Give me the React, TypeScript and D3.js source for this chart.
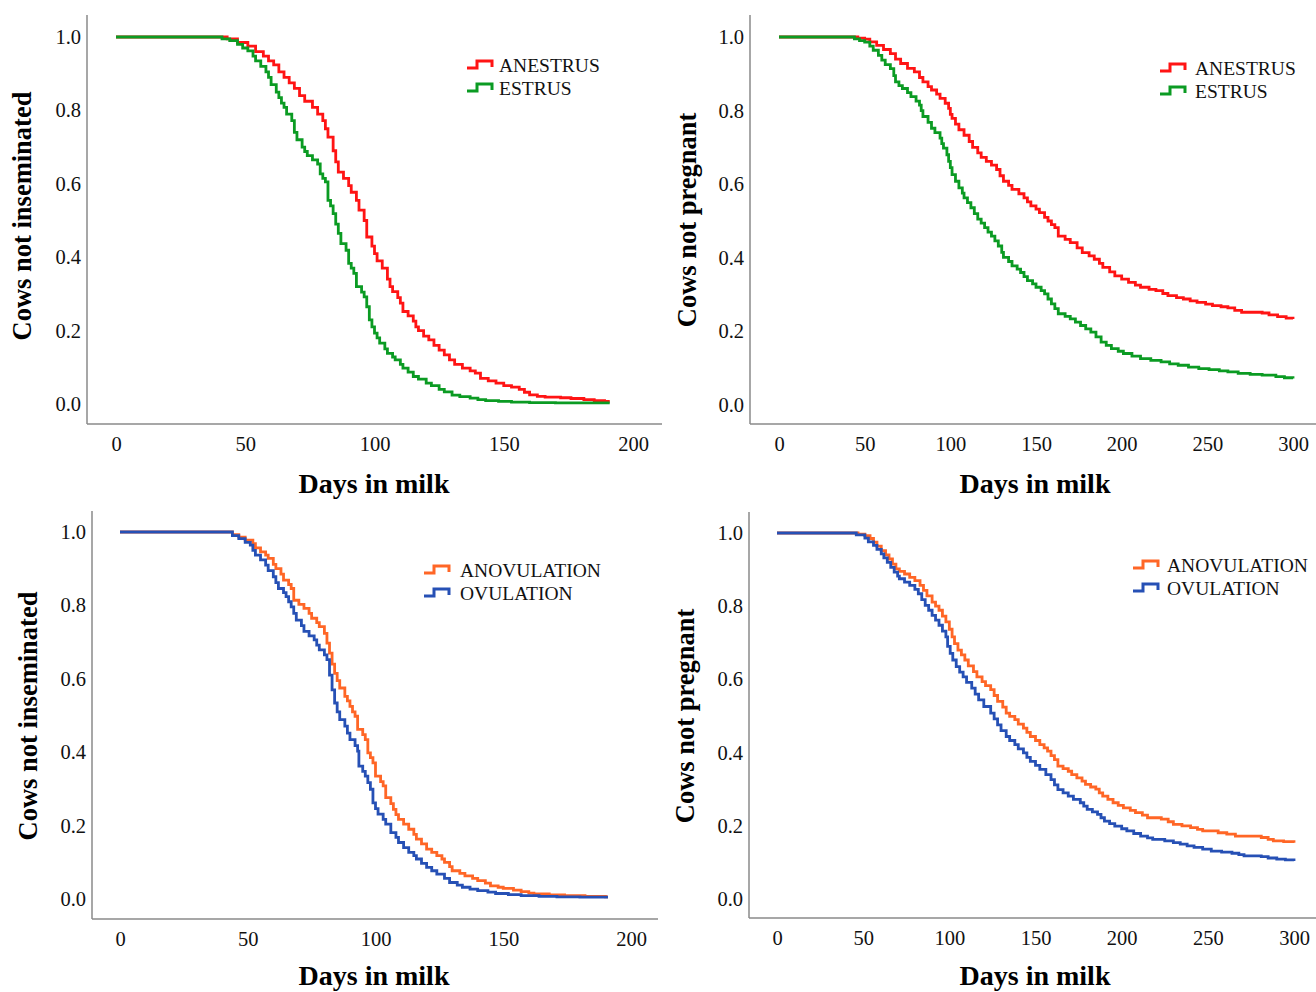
import React, { useEffect, useRef } from 'react';
import * as d3 from 'd3';

// Kaplan-Meier estimates: [days in milk, proportion]
const inseminatedAnestrus: [number, number][] = [
  [0, 1], [43, 0.995], [47, 0.985], [51, 0.975], [54, 0.96], [57, 0.948], [59, 0.935], [61, 0.924], [63, 0.905],
  [65, 0.89], [67, 0.875], [69, 0.86], [71, 0.84], [73, 0.825], [76, 0.808], [78, 0.79], [80, 0.772], [81, 0.75],
  [82, 0.727], [84, 0.69], [85, 0.66], [86, 0.632], [88, 0.615], [90, 0.595], [91, 0.577], [93, 0.555], [94, 0.528],
  [96, 0.5], [97, 0.455], [99, 0.43], [100, 0.41], [101, 0.39], [103, 0.37], [105, 0.34], [106, 0.32], [107, 0.306],
  [109, 0.29], [110, 0.275], [111, 0.252], [113, 0.24], [115, 0.226], [116, 0.21], [117, 0.2], [119, 0.185],
  [121, 0.175], [123, 0.16], [125, 0.147], [127, 0.134], [129, 0.12], [131, 0.108], [134, 0.098], [137, 0.09],
  [139, 0.084], [141, 0.07], [144, 0.063], [147, 0.057], [150, 0.05], [153, 0.046], [156, 0.04], [158, 0.032],
  [160, 0.025], [163, 0.021], [166, 0.019], [172, 0.017], [176, 0.015], [181, 0.012], [185, 0.009], [189, 0.007],
  [191, 0.007],
];
const inseminatedEstrus: [number, number][] = [
  [0, 1], [41, 0.995], [44, 0.99], [47, 0.98], [49, 0.97], [51, 0.962], [53, 0.948], [54, 0.935], [56, 0.92],
  [58, 0.905], [59, 0.89], [60, 0.87], [62, 0.85], [63, 0.835], [64, 0.82], [65, 0.808], [66, 0.79], [68, 0.772],
  [69, 0.74], [70, 0.72], [72, 0.7], [73, 0.688], [74, 0.677], [76, 0.665], [78, 0.654], [79, 0.627], [80, 0.615],
  [81, 0.605], [82, 0.555], [83, 0.54], [84, 0.519], [85, 0.49], [86, 0.465], [87, 0.437], [89, 0.419], [90, 0.383],
  [91, 0.37], [92, 0.356], [93, 0.32], [95, 0.305], [96, 0.292], [97, 0.265], [98, 0.229], [99, 0.21], [100, 0.193],
  [101, 0.18], [102, 0.166], [104, 0.15], [105, 0.138], [107, 0.128], [108, 0.12], [110, 0.108], [111, 0.098],
  [113, 0.087], [115, 0.075], [117, 0.068], [120, 0.057], [122, 0.05], [125, 0.04], [127, 0.033], [130, 0.024],
  [133, 0.02], [137, 0.016], [140, 0.012], [143, 0.009], [148, 0.007], [153, 0.005], [160, 0.004], [170, 0.003],
  [191, 0.003],
];
const pregnantAnestrus: [number, number][] = [
  [0, 1], [43, 1], [46, 0.997], [50, 0.994], [53, 0.987], [57, 0.977], [61, 0.966], [65, 0.955], [68, 0.94],
  [71, 0.928], [75, 0.915], [79, 0.905], [82, 0.89], [84, 0.878], [87, 0.865], [89, 0.856], [92, 0.845], [94, 0.833],
  [97, 0.82], [99, 0.806], [100, 0.79], [101, 0.779], [103, 0.763], [105, 0.748], [108, 0.733], [111, 0.716],
  [113, 0.7], [116, 0.685], [118, 0.673], [121, 0.662], [124, 0.652], [127, 0.64], [129, 0.623], [131, 0.608],
  [134, 0.597], [136, 0.586], [140, 0.574], [143, 0.563], [145, 0.552], [147, 0.541], [150, 0.532], [152, 0.523],
  [155, 0.51], [157, 0.5], [159, 0.49], [161, 0.482], [163, 0.459], [167, 0.45], [170, 0.441], [174, 0.427],
  [177, 0.414], [181, 0.405], [184, 0.396], [187, 0.385], [189, 0.374], [193, 0.362], [196, 0.351], [200, 0.342],
  [204, 0.333], [208, 0.326], [211, 0.32], [216, 0.314], [220, 0.311], [224, 0.303], [227, 0.297], [232, 0.292],
  [236, 0.288], [240, 0.283], [244, 0.279], [249, 0.274], [253, 0.27], [258, 0.267], [262, 0.264], [266, 0.257],
  [270, 0.252], [282, 0.25], [286, 0.245], [291, 0.24], [296, 0.236], [300, 0.234],
];
const pregnantEstrus: [number, number][] = [
  [0, 1], [41, 1], [44, 0.995], [47, 0.99], [50, 0.986], [53, 0.975], [55, 0.964], [58, 0.95], [60, 0.937],
  [62, 0.925], [65, 0.914], [67, 0.895], [68, 0.878], [70, 0.868], [72, 0.86], [75, 0.849], [77, 0.838], [80, 0.826],
  [82, 0.815], [83, 0.8], [84, 0.784], [87, 0.768], [89, 0.752], [91, 0.74], [94, 0.725], [95, 0.71], [96, 0.698],
  [98, 0.68], [99, 0.662], [100, 0.645], [101, 0.626], [103, 0.608], [105, 0.59], [107, 0.576], [108, 0.563],
  [110, 0.55], [112, 0.536], [114, 0.52], [116, 0.505], [118, 0.494], [120, 0.482], [122, 0.47], [124, 0.459],
  [126, 0.446], [128, 0.432], [130, 0.415], [131, 0.401], [134, 0.39], [136, 0.378], [139, 0.369], [141, 0.36],
  [143, 0.349], [145, 0.338], [148, 0.329], [150, 0.32], [153, 0.311], [155, 0.302], [157, 0.288], [159, 0.275],
  [161, 0.262], [163, 0.248], [167, 0.241], [170, 0.234], [173, 0.225], [176, 0.216], [179, 0.207], [182, 0.198],
  [185, 0.185], [188, 0.171], [191, 0.162], [194, 0.153], [198, 0.146], [201, 0.14], [206, 0.133], [211, 0.126],
  [217, 0.121], [223, 0.117], [228, 0.112], [233, 0.108], [239, 0.103], [245, 0.099], [251, 0.096], [257, 0.093],
  [262, 0.09], [268, 0.086], [275, 0.083], [282, 0.081], [290, 0.077], [295, 0.074], [300, 0.072],
];
const inseminatedAnovulation: [number, number][] = [
  [0, 1], [41.5, 1], [44, 0.993], [46.5, 0.986], [49, 0.978], [52, 0.968], [53, 0.957], [55, 0.946], [57, 0.937],
  [58, 0.928], [60, 0.912], [61, 0.9], [63, 0.885], [64, 0.869], [66, 0.857], [67, 0.846], [68, 0.814], [70, 0.803],
  [72, 0.792], [74, 0.778], [75, 0.765], [77, 0.753], [78, 0.742], [80, 0.724], [81, 0.697], [82, 0.67], [83, 0.64],
  [84, 0.615], [85, 0.595], [86, 0.575], [88, 0.552], [89, 0.54], [90, 0.525], [91, 0.51], [92, 0.498], [93, 0.462],
  [95, 0.448], [96, 0.434], [97, 0.398], [98, 0.385], [99, 0.371], [100, 0.335], [102, 0.32], [103, 0.308],
  [104, 0.276], [106, 0.26], [107, 0.244], [108, 0.23], [109, 0.217], [111, 0.204], [113, 0.19], [115, 0.176],
  [116, 0.163], [118, 0.15], [120, 0.136], [122, 0.127], [124, 0.118], [126, 0.109], [127, 0.1], [129, 0.088],
  [130, 0.077], [133, 0.07], [135, 0.063], [138, 0.056], [140, 0.05], [143, 0.043], [145, 0.036], [148, 0.032],
  [150, 0.029], [154, 0.024], [157, 0.02], [160, 0.016], [162, 0.014], [168, 0.011], [174, 0.009], [182, 0.007],
  [190, 0.006], [191, 0.006],
];
const inseminatedOvulation: [number, number][] = [
  [0, 1], [41.5, 1], [44, 0.99], [46.5, 0.982], [49, 0.972], [51, 0.964], [52, 0.95], [53, 0.937], [55, 0.924],
  [57, 0.91], [58, 0.895], [60, 0.878], [61, 0.862], [62, 0.846], [64, 0.835], [65, 0.824], [66, 0.81], [67, 0.796],
  [68, 0.778], [69, 0.76], [71, 0.745], [72, 0.729], [74, 0.717], [76, 0.706], [77, 0.692], [78, 0.679], [80, 0.665],
  [81, 0.652], [82, 0.61], [83, 0.57], [84, 0.534], [85, 0.51], [86, 0.489], [88, 0.471], [89, 0.452], [90, 0.434],
  [92, 0.418], [93, 0.403], [93.5, 0.362], [95, 0.348], [96, 0.335], [97, 0.317], [98, 0.299], [99, 0.262],
  [100, 0.246], [101, 0.231], [103, 0.217], [104, 0.204], [106, 0.181], [108, 0.168], [109, 0.154], [111, 0.14],
  [113, 0.127], [115, 0.118], [116, 0.109], [118, 0.097], [120, 0.086], [122, 0.077], [124, 0.068], [127, 0.056],
  [129, 0.045], [132, 0.038], [134, 0.032], [137, 0.027], [140, 0.023], [144, 0.019], [147, 0.015], [152, 0.012],
  [157, 0.009], [164, 0.007], [171, 0.006], [180, 0.005], [191, 0.005],
];
const pregnantAnovulation: [number, number][] = [
  [0, 1], [43.6, 1], [47, 0.997], [51, 0.993], [54, 0.985], [56, 0.975], [58, 0.964], [60.5, 0.952], [63, 0.94],
  [65, 0.929], [67, 0.915], [69, 0.902], [71, 0.895], [74, 0.888], [77, 0.879], [80, 0.87], [83, 0.857], [85, 0.843],
  [87, 0.828], [90, 0.811], [92, 0.8], [94, 0.789], [96, 0.773], [98, 0.757], [100, 0.737], [101.6, 0.716],
  [103, 0.698], [105, 0.68], [107, 0.667], [109, 0.653], [111, 0.637], [114, 0.621], [116, 0.607], [119, 0.594],
  [121, 0.583], [124, 0.572], [126, 0.556], [128, 0.54], [131, 0.524], [133, 0.508], [135, 0.499], [138, 0.49],
  [140, 0.478], [143, 0.467], [145, 0.455], [147, 0.444], [150, 0.433], [152.5, 0.422], [155, 0.413], [157, 0.404],
  [159, 0.392], [161, 0.381], [163, 0.363], [166, 0.356], [169, 0.349], [171, 0.34], [174, 0.331], [177, 0.322],
  [179, 0.313], [182, 0.306], [185, 0.3], [187, 0.29], [189, 0.281], [192, 0.272], [195, 0.263], [198, 0.256],
  [201, 0.249], [205, 0.242], [208, 0.236], [212, 0.229], [215, 0.222], [223, 0.218], [227, 0.211], [230, 0.204],
  [235, 0.2], [240, 0.195], [244, 0.19], [247, 0.186], [256, 0.181], [261, 0.177], [266, 0.172], [281, 0.168],
  [285, 0.163], [288, 0.159], [294, 0.157], [300, 0.154],
];
const pregnantOvulation: [number, number][] = [
  [0, 1], [42.4, 1], [46, 0.995], [51, 0.986], [53, 0.976], [56, 0.966], [58, 0.955], [60.5, 0.943], [62, 0.932],
  [64, 0.92], [66, 0.906], [68, 0.893], [70, 0.882], [71, 0.875], [74, 0.866], [77, 0.857], [80, 0.846], [82, 0.834],
  [84, 0.818], [86, 0.802], [88, 0.789], [90, 0.775], [92, 0.762], [94, 0.748], [96, 0.732], [98, 0.716], [99, 0.69],
  [100.5, 0.671], [102, 0.653], [104, 0.635], [106, 0.62], [108, 0.607], [110, 0.592], [113, 0.576], [115, 0.56],
  [117, 0.544], [120, 0.526], [124, 0.508], [126, 0.492], [128, 0.476], [130, 0.46], [133, 0.444], [135, 0.433],
  [138, 0.422], [140, 0.41], [143, 0.399], [145, 0.387], [147, 0.376], [150, 0.365], [152.5, 0.354], [156, 0.34],
  [159, 0.326], [161, 0.312], [163, 0.299], [166, 0.29], [169, 0.281], [172, 0.272], [176, 0.263], [178, 0.254],
  [180, 0.245], [183, 0.238], [186, 0.231], [188, 0.222], [190, 0.213], [193, 0.206], [196, 0.199], [200, 0.192],
  [203, 0.186], [207, 0.179], [211, 0.172], [215, 0.167], [218, 0.163], [225, 0.159], [230, 0.154], [234, 0.15],
  [238, 0.145], [242, 0.141], [247, 0.136], [252, 0.131], [258, 0.128], [264, 0.125], [268, 0.121], [271, 0.118],
  [281, 0.116], [285, 0.112], [290, 0.109], [295, 0.107], [300, 0.104],
];

const yTicks = [0, 0.2, 0.4, 0.6, 0.8, 1.0];
const xTicks200 = [0, 50, 100, 150, 200];
const xTicks300 = [0, 50, 100, 150, 200, 250, 300];
const estrusGroups = ['ANESTRUS', 'ESTRUS'];
const ovulationGroups = ['ANOVULATION', 'OVULATION'];

const RED = '#ff1414';
const GREEN = '#0b9b23';
const ORANGE = '#ff6626';
const BLUE = '#2650b5';
const FONT = '"Liberation Serif", "Times New Roman", serif';

type PanelCfg = {
  left: number; top: number; bottom: number; right: number; // axis frame
  x0: number; x1: number; xMax: number; xTicks: number[];
  y0: number; y1: number; // pixel of 0.0 and 1.0
  yTitle: string; yTitleX: number; yTitleY: number; xTitleX: number; xTitleY: number;
  series: [number, number][][]; names: string[]; colors: string[];
  legX: number; legTextX: number; legY: number;
};

const panels: PanelCfg[] = [
  {
    left: 87, top: 15, bottom: 424, right: 662, x0: 116, x1: 633, xMax: 200, xTicks: xTicks200, y0: 404, y1: 37,
    yTitle: 'Cows not inseminated', yTitleX: 22, yTitleY: 216, xTitleX: 374, xTitleY: 493,
    series: [inseminatedAnestrus, inseminatedEstrus], names: estrusGroups, colors: [RED, GREEN],
    legX: 467, legTextX: 499, legY: 65,
  },
  {
    left: 750, top: 15, bottom: 424, right: 1316, x0: 779, x1: 1293, xMax: 300, xTicks: xTicks300, y0: 405, y1: 37,
    yTitle: 'Cows not pregnant', yTitleX: 687, yTitleY: 220, xTitleX: 1035, xTitleY: 493,
    series: [pregnantAnestrus, pregnantEstrus], names: estrusGroups, colors: [RED, GREEN],
    legX: 1160, legTextX: 1195, legY: 68,
  },
  {
    left: 92, top: 511, bottom: 919, right: 658, x0: 120, x1: 631, xMax: 200, xTicks: xTicks200, y0: 899, y1: 532,
    yTitle: 'Cows not inseminated', yTitleX: 28, yTitleY: 716, xTitleX: 374, xTitleY: 985,
    series: [inseminatedAnovulation, inseminatedOvulation], names: ovulationGroups, colors: [ORANGE, BLUE],
    legX: 424, legTextX: 460, legY: 570,
  },
  {
    left: 749, top: 512, bottom: 918, right: 1316, x0: 777, x1: 1294, xMax: 300, xTicks: xTicks300, y0: 899, y1: 533,
    yTitle: 'Cows not pregnant', yTitleX: 685, yTitleY: 716, xTitleX: 1035, xTitleY: 985,
    series: [pregnantAnovulation, pregnantOvulation], names: ovulationGroups, colors: [ORANGE, BLUE],
    legX: 1133, legTextX: 1167, legY: 565,
  },
];

function Panel({ cfg }: { cfg: PanelCfg }) {
  const ref = useRef<SVGGElement>(null);

  useEffect(() => {
    const g = d3.select(ref.current);
    g.selectAll('*').remove();

    const x = d3.scaleLinear().domain([0, cfg.xMax]).range([cfg.x0, cfg.x1]);
    const y = d3.scaleLinear().domain([0, 1]).range([cfg.y0, cfg.y1]);

    // axis lines (SPSS style, no tick marks)
    g.append('line').attr('x1', cfg.left).attr('x2', cfg.left).attr('y1', cfg.top).attr('y2', cfg.bottom)
      .attr('stroke', '#8a8a8a').attr('stroke-width', 1.5);
    g.append('line').attr('x1', cfg.left).attr('x2', cfg.right).attr('y1', cfg.bottom).attr('y2', cfg.bottom)
      .attr('stroke', '#8a8a8a').attr('stroke-width', 1.5);

    const xa = g.append('g').attr('transform', `translate(0,${cfg.bottom})`)
      .call(d3.axisBottom(x).tickValues(cfg.xTicks).tickSize(0).tickPadding(12).tickFormat(d3.format('d')));
    const ya = g.append('g').attr('transform', `translate(${cfg.left},0)`)
      .call(d3.axisLeft(y).tickValues(yTicks).tickSize(0).tickPadding(6).tickFormat(d3.format('.1f')));
    [xa, ya].forEach(a => {
      a.attr('font-family', FONT);
      a.select('.domain').remove();
      a.selectAll('text').attr('font-family', FONT).attr('font-size', 20.5).attr('fill', '#111');
    });

    // survival curves
    const line = d3.line<[number, number]>()
      .x(d => x(d[0]))
      .y(d => y(d[1]))
      .curve(d3.curveStepAfter);
    cfg.series.forEach((s, i) => {
      g.append('path').datum(s)
        .attr('fill', 'none')
        .attr('stroke', cfg.colors[i])
        .attr('stroke-width', 2.8)
        .attr('d', line);
    });

    // titles
    g.append('text')
      .attr('transform', `translate(${cfg.yTitleX},${cfg.yTitleY}) rotate(-90)`)
      .attr('text-anchor', 'middle').attr('dominant-baseline', 'central')
      .attr('font-family', FONT).attr('font-weight', 'bold').attr('font-size', 26.5)
      .text(cfg.yTitle);
    g.append('text')
      .attr('x', cfg.xTitleX).attr('y', cfg.xTitleY)
      .attr('text-anchor', 'middle')
      .attr('font-family', FONT).attr('font-weight', 'bold').attr('font-size', 28)
      .text('Days in milk');

    // legend
    cfg.names.forEach((name, i) => {
      const cy = cfg.legY + i * 23;
      const lx = cfg.legX;
      g.append('path')
        .attr('d', `M${lx},${cy + 3}H${lx + 10}V${cy - 4}H${lx + 25}V${cy + 2}`)
        .attr('fill', 'none').attr('stroke', cfg.colors[i]).attr('stroke-width', 3);
      g.append('text')
        .attr('x', cfg.legTextX).attr('y', cy)
        .attr('dominant-baseline', 'central')
        .attr('font-family', FONT).attr('font-size', 19.5).attr('fill', '#111')
        .text(name);
    });
  }, [cfg]);

  return <g ref={ref} />;
}

export default function App() {
  return (
    <svg width={1316} height={992} style={{ position: 'absolute', left: 0, top: 0, background: '#fff' }}>
      {panels.map((p, i) => <Panel key={i} cfg={p} />)}
    </svg>
  );
}
